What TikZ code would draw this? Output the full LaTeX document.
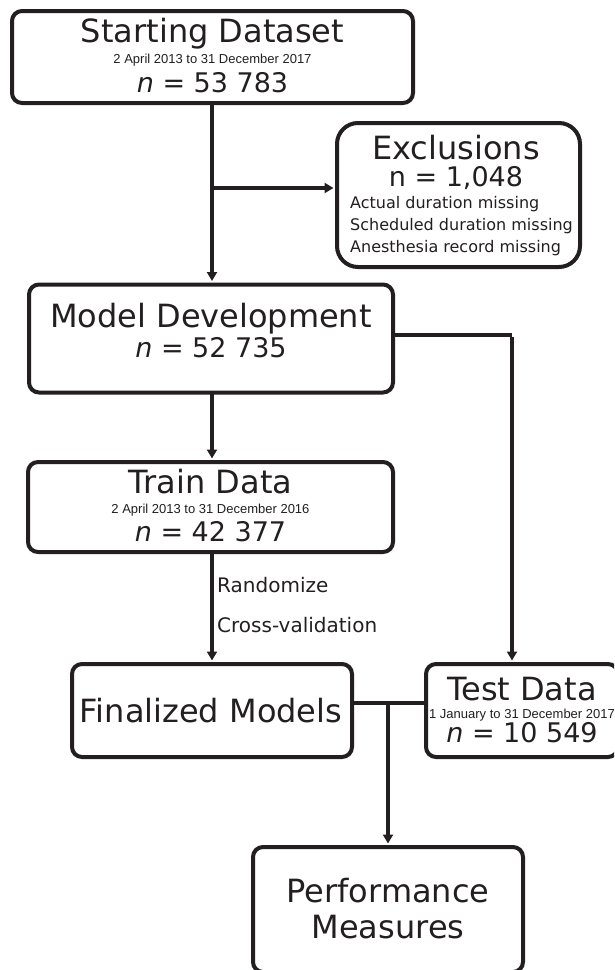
\documentclass[tikz,border=0pt]{standalone}
\usepackage{fontspec}
\setmainfont{DejaVu Sans}
\newfontfamily\datefont{Liberation Sans}
\usetikzlibrary{arrows.meta}
\definecolor{ink}{HTML}{231F20}
\begin{document}
\begin{tikzpicture}[x=1pt,y=-1pt,
  box/.style={draw=ink, line width=4pt, rounded corners=10pt, inner sep=0pt, fill=white},
  conn/.style={draw=ink, line width=3.6pt},
  arr/.style={conn, -{Triangle[width=10pt,length=9pt]}, shorten >=1.5pt},
  title/.style={text=ink, anchor=base, font=\fontsize{32}{32}\selectfont, inner sep=0pt},
  date/.style={text=ink, anchor=base, font=\datefont\fontsize{13}{13}\selectfont, inner sep=0pt},
  count/.style={text=ink, anchor=base, font=\fontsize{27}{27}\selectfont, inner sep=0pt},
  small/.style={text=ink, anchor=base west, font=\fontsize{16}{16}\selectfont, inner sep=0pt},
  lab/.style={text=ink, anchor=base west, font=\fontsize{20}{20}\selectfont, inner sep=0pt}
]
\useasboundingbox (0,0) rectangle (614,970);
\clip (0,0) rectangle (614,970);

% boxes
\node[box, minimum width=401pt, minimum height=92pt] (start) at (212.5,57) {};
\node[box, rounded corners=21pt, minimum width=243pt, minimum height=144pt] (excl) at (458.5,195) {};
\node[box, minimum width=364pt, minimum height=108pt] (model) at (211,338.5) {};
\node[box, minimum width=365pt, minimum height=90pt] (train) at (210.5,507) {};
\node[box, minimum width=280pt, minimum height=93pt] (final) at (212,710.5) {};
\node[box, minimum width=192pt, minimum height=93pt] (test) at (522,710.5) {};
\node[box, minimum width=270pt, minimum height=125pt] (perf) at (388,909.5) {};

% texts
\node[title] (startT) at (212.5,42) {Starting Dataset};
\node[date]  (startD) at (212.5,63) {2 April 2013 to 31 December 2017};
\node[count] (startN) at (212.5,92) {\textit{n} = 53 783};

\node[title] (exclT) at (456,159) {Exclusions};
\node[count] (exclN) at (456,186) {n = 1,048};
\node[small] (exclA) at (350,208) {Actual duration missing};
\node[small] (exclB) at (350,230) {Scheduled duration missing};
\node[small] (exclC) at (350,252) {Anesthesia record missing};

\node[title] (modelT) at (211,327) {Model Development};
\node[count] (modelN) at (211,357) {\textit{n} = 52 735};

\node[title] (trainT) at (210.5,493) {Train Data};
\node[date]  (trainD) at (210.5,513) {2 April 2013 to 31 December 2016};
\node[count] (trainN) at (210.5,541) {\textit{n} = 42 377};

\node[title] (finalT) at (211,722) {Finalized Models};

\node[title] (testT) at (522,700) {Test Data};
\node[date]  (testD) at (522,718) {1 January to 31 December 2017};
\node[count] (testN) at (522,742) {\textit{n} = 10 549};

\node[title] (perfT) at (388,902) {Performance};
\node[title] (perfM) at (388,938) {Measures};

\node[lab] (rand) at (217,592) {Randomize};
\node[lab] (cross) at (217,632) {Cross-validation};

% connectors
\coordinate (v1) at (212,103);
\coordinate (br) at (212,188);
\draw[arr] (v1) -- (v1 |- model.north);
\draw[arr] (br) -- (br -| excl.west);

\coordinate (mr) at (393,335);
\coordinate (tc) at (512,335);
\draw[conn] (mr) -- (tc);
\draw[arr] ([yshift=-1.8pt]tc) -- (tc |- test.north);

\coordinate (v2) at (212,392);
\draw[arr] (v2) -- (v2 |- train.north);
\coordinate (v3) at (212,552);
\draw[arr] (v3) -- (v3 |- final.north);

\coordinate (jn) at (388,703);
\draw[conn] (final.east |- jn) -- (test.west |- jn);
\draw[arr] (jn) -- (perf.north);
\end{tikzpicture}
\end{document}
